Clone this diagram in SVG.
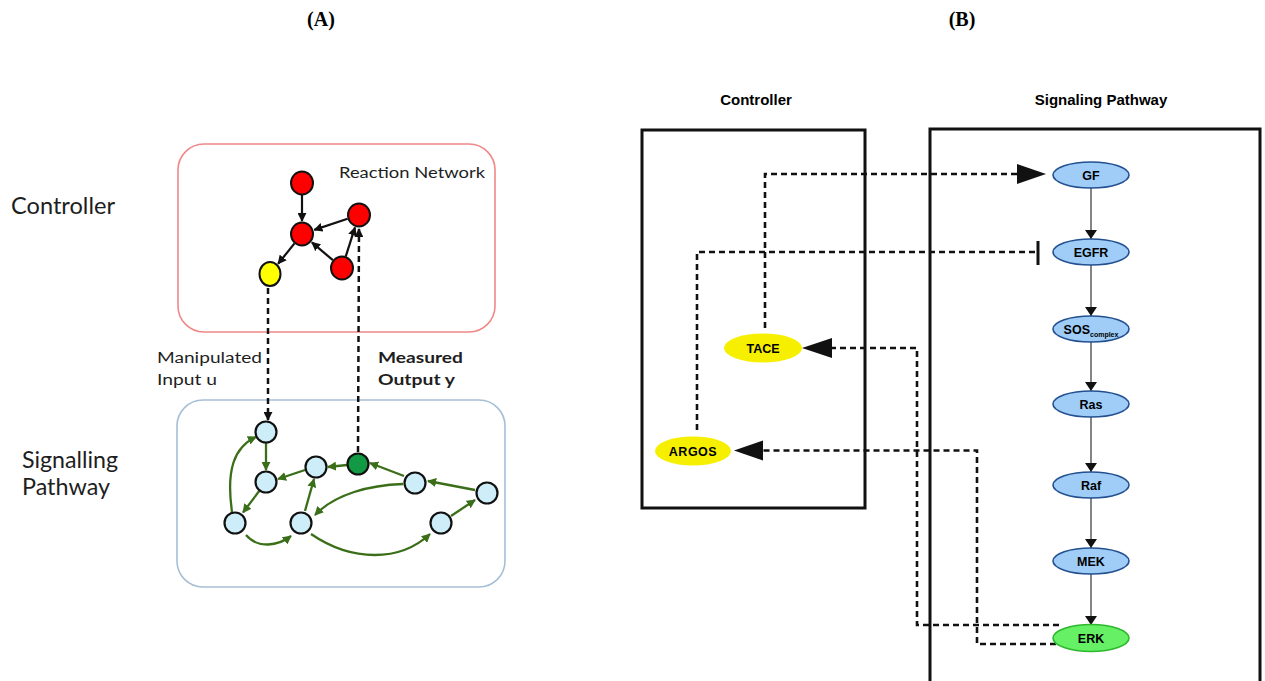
<svg xmlns="http://www.w3.org/2000/svg" width="1265" height="681" viewBox="0 0 1265 681">
<style>
.lbl{font-family:"Liberation Serif","Times New Roman",serif;font-weight:bold;font-size:20px;fill:#000;text-anchor:middle}
.ta{font-family:Lato,"Open Sans","Liberation Sans",sans-serif;fill:#1e1e1e}
.tb{font-family:"Liberation Sans",Arial,sans-serif;font-weight:bold;fill:#000}
.red{fill:#ff0000;stroke:#111;stroke-width:2}
.yel{fill:#ffff00;stroke:#111;stroke-width:2}
.lb{fill:#cdeef8;stroke:#111;stroke-width:2.2}
.grn{fill:#119944;stroke:#111;stroke-width:2.2}
.ka{stroke:#111;stroke-width:2.2;fill:none}
.ga{stroke:#3a6e18;stroke-width:2.3;fill:none}
.da{stroke:#111;stroke-width:2.5;fill:none;stroke-dasharray:6 4}
.be{fill:#9fcdf7;stroke:#23508f;stroke-width:1.6}
.ee{fill:#66f066;stroke:#2db82d;stroke-width:1.6}
.ye{fill:#f6f000;stroke:none}
.sa{stroke:#333;stroke-width:1.2;fill:none}
.db{stroke:#111;stroke-width:2.6;fill:none;stroke-dasharray:6 4}
.box{fill:none;stroke:#111;stroke-width:3}
</style>
<defs>
<marker id="mk" viewBox="0 0 10 10" refX="9" refY="5" markerWidth="9" markerHeight="9" markerUnits="userSpaceOnUse" orient="auto"><path d="M0,0 L10,5 L0,10 z" fill="#111"/></marker>
<marker id="mg" viewBox="0 0 10 10" refX="9" refY="5" markerWidth="9" markerHeight="9" markerUnits="userSpaceOnUse" orient="auto"><path d="M0,0 L10,5 L0,10 z" fill="#3a6e18"/></marker>
<marker id="ms" viewBox="0 0 10 10" refX="10" refY="5" markerWidth="9" markerHeight="12" markerUnits="userSpaceOnUse" orient="auto" preserveAspectRatio="none"><path d="M0,0 L10,5 L0,10 z" fill="#111"/></marker>
</defs>
<rect width="1265" height="681" fill="#fff"/>
<text class="lbl" x="321" y="26">(A)</text>
<text class="lbl" x="962" y="26">(B)</text>

<!-- Panel A -->
<g id="a-controller-box">
<rect x="178" y="144" width="317" height="188" rx="26" fill="none" stroke="#f08888" stroke-width="1.6"/>
<text class="ta" x="339" y="178" font-size="15.5" textLength="146" lengthAdjust="spacingAndGlyphs">Reaction Network</text>
</g>
<g id="a-signalling-box">
<rect x="177" y="400" width="328" height="187" rx="26" fill="none" stroke="#a6bed6" stroke-width="1.6"/>
</g>
<text class="ta" x="11" y="214" font-size="23" textLength="104" lengthAdjust="spacingAndGlyphs">Controller</text>
<text class="ta" x="22" y="468" font-size="23" textLength="96" lengthAdjust="spacingAndGlyphs">Signalling</text>
<text class="ta" x="22" y="495" font-size="23" textLength="88" lengthAdjust="spacingAndGlyphs">Pathway</text>
<text class="ta" x="157" y="363" font-size="15.5" textLength="105" lengthAdjust="spacingAndGlyphs">Manipulated</text>
<text class="ta" x="157" y="385" font-size="15.5" textLength="60" lengthAdjust="spacingAndGlyphs">Input  u</text>
<text class="ta" x="378" y="363" font-size="15.5" font-weight="bold" textLength="85" lengthAdjust="spacingAndGlyphs">Measured</text>
<text class="ta" x="378" y="385" font-size="15.5" font-weight="bold" textLength="77" lengthAdjust="spacingAndGlyphs">Output  y</text>

<g id="a-connectors">
<line class="ka" x1="302" y1="195" x2="302" y2="221" marker-end="url(#mk)"/>
<line class="ka" x1="347.6" y1="218.8" x2="314.3" y2="229.9" marker-end="url(#mk)"/>
<line class="ka" x1="332.9" y1="260.2" x2="311.9" y2="242.4" marker-end="url(#mk)"/>
<line class="ka" x1="345.7" y1="256.6" x2="355" y2="227.4" marker-end="url(#mk)"/>
<line class="ka" x1="294.5" y1="243.4" x2="278.1" y2="263.8" marker-end="url(#mk)"/>
<line class="da" x1="268" y1="288" x2="268" y2="420" marker-end="url(#mk)"/>
<line class="da" x1="358" y1="452" x2="359" y2="229" marker-end="url(#mk)"/>
<line class="ga" x1="266" y1="443" x2="266" y2="470" marker-end="url(#mg)"/>
<line class="ga" x1="347" y1="465" x2="328" y2="467" marker-end="url(#mg)"/>
<line class="ga" x1="305" y1="470" x2="278" y2="479" marker-end="url(#mg)"/>
<line class="ga" x1="259.4" y1="490.8" x2="243" y2="512.5" marker-end="url(#mg)"/>
<path class="ga" d="M232,512 C226,470 234,447 256,437" marker-end="url(#mg)"/>
<path class="ga" d="M246,535 C258,549 278,546 291,536" marker-end="url(#mg)"/>
<line class="ga" x1="305" y1="511" x2="314" y2="479" marker-end="url(#mg)"/>
<path class="ga" d="M403,484 C370,485 335,494 315,515" marker-end="url(#mg)"/>
<line class="ga" x1="404" y1="476" x2="370" y2="463" marker-end="url(#mg)"/>
<line class="ga" x1="475" y1="490" x2="428" y2="481" marker-end="url(#mg)"/>
<line class="ga" x1="451" y1="516" x2="475" y2="500" marker-end="url(#mg)"/>
<path class="ga" d="M311,534 C352,562 400,562 430,534" marker-end="url(#mg)"/>
</g>

<g id="a-n1"><ellipse class="red" cx="302" cy="183" rx="11" ry="11.5"/></g>
<g id="a-n2"><ellipse class="red" cx="302" cy="234" rx="11" ry="11.5"/></g>
<g id="a-n3"><ellipse class="red" cx="359" cy="215" rx="11" ry="11.5"/></g>
<g id="a-n4"><ellipse class="red" cx="342" cy="268" rx="11" ry="11.5"/></g>
<g id="a-ny"><ellipse class="yel" cx="270" cy="274" rx="10.5" ry="12"/></g>
<g id="a-s1"><circle class="lb" cx="266" cy="432" r="10.5"/></g>
<g id="a-s2"><circle class="lb" cx="266" cy="482" r="10.5"/></g>
<g id="a-s3"><circle class="lb" cx="316" cy="467" r="10.5"/></g>
<g id="a-g"><circle class="grn" cx="358" cy="464" r="10.5"/></g>
<g id="a-s4"><circle class="lb" cx="415" cy="483" r="10.5"/></g>
<g id="a-s5"><circle class="lb" cx="487" cy="493" r="10.5"/></g>
<g id="a-s6"><circle class="lb" cx="235" cy="523" r="10.5"/></g>
<g id="a-s7"><circle class="lb" cx="301" cy="523" r="10.5"/></g>
<g id="a-s8"><circle class="lb" cx="441" cy="523" r="10.5"/></g>

<!-- Panel B -->
<text class="tb" x="756" y="105" font-size="15" text-anchor="middle">Controller</text>
<text class="tb" x="1101" y="105" font-size="15" text-anchor="middle">Signaling Pathway</text>
<g id="b-controller-box"><rect class="box" x="642" y="130" width="223" height="378"/></g>
<g id="b-signaling-box"><path class="box" d="M930,690 V129 H1260 V690"/></g>

<g id="b-connectors">
<line class="sa" x1="1091" y1="188" x2="1091" y2="239" marker-end="url(#ms)"/>
<line class="sa" x1="1091" y1="265" x2="1091" y2="316" marker-end="url(#ms)"/>
<line class="sa" x1="1091" y1="342" x2="1091" y2="391" marker-end="url(#ms)"/>
<line class="sa" x1="1091" y1="417" x2="1091" y2="472" marker-end="url(#ms)"/>
<line class="sa" x1="1091" y1="498" x2="1091" y2="548" marker-end="url(#ms)"/>
<line class="sa" x1="1091" y1="574" x2="1091" y2="625" marker-end="url(#ms)"/>
<path class="db" d="M765,328 V174 H1017"/>
<polygon points="1046,174 1017,164 1017,184" fill="#111"/>
<path class="db" d="M697,430 V252 H1037"/>
<line x1="1038" y1="241" x2="1038" y2="265" stroke="#111" stroke-width="3"/>
<path class="db" d="M1059,625 H917 V348 H832"/>
<polygon points="802,348 832,338 832,358" fill="#111"/>
<path class="db" d="M1056,644 H977 V450.5 H763"/>
<polygon points="734,450.5 763,440.5 763,460.5" fill="#111"/>
</g>

<g id="b-gf"><ellipse class="be" cx="1091" cy="175" rx="38" ry="13"/><text class="tb" x="1091" y="179.5" font-size="12.5" text-anchor="middle">GF</text></g>
<g id="b-egfr"><ellipse class="be" cx="1091" cy="252" rx="38" ry="13"/><text class="tb" x="1091" y="256.5" font-size="12.5" text-anchor="middle">EGFR</text></g>
<g id="b-sos"><ellipse class="be" cx="1091" cy="329" rx="38" ry="13"/><text class="tb" x="1091" y="333.5" font-size="12.5" text-anchor="middle">SOS<tspan font-size="7" dy="3">complex</tspan></text></g>
<g id="b-ras"><ellipse class="be" cx="1091" cy="404" rx="38" ry="13"/><text class="tb" x="1091" y="408.5" font-size="12.5" text-anchor="middle">Ras</text></g>
<g id="b-raf"><ellipse class="be" cx="1091" cy="485" rx="38" ry="13"/><text class="tb" x="1091" y="489.5" font-size="12.5" text-anchor="middle">Raf</text></g>
<g id="b-mek"><ellipse class="be" cx="1091" cy="561" rx="38" ry="13"/><text class="tb" x="1091" y="565.5" font-size="12.5" text-anchor="middle">MEK</text></g>
<g id="b-erk"><ellipse class="ee" cx="1091" cy="638" rx="38" ry="13.5"/><text class="tb" x="1091" y="642.5" font-size="12.5" text-anchor="middle">ERK</text></g>
<g id="b-tace"><ellipse class="ye" cx="763" cy="348" rx="39" ry="14.5"/><text class="tb" x="763" y="352.5" font-size="12.5" text-anchor="middle">TACE</text></g>
<g id="b-argos"><ellipse class="ye" cx="693" cy="451" rx="38" ry="14.5"/><text class="tb" x="693" y="455.5" font-size="12.5" text-anchor="middle" letter-spacing="0.5">ARGOS</text></g>
</svg>
